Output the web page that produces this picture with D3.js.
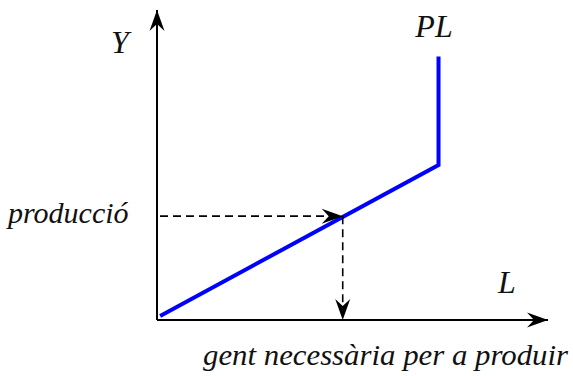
<!DOCTYPE html>
<html>
<head>
<meta charset="utf-8">
<script src="https://cdn.jsdelivr.net/npm/d3@7"></script>
<style>
  body { margin: 0; background: #fff; }
  text { font-family: "Liberation Serif", serif; font-style: italic; fill: #111; }
</style>
</head>
<body>
<svg id="chart"></svg>
<script>
// curve PL (L, Y) in abstract units
var plL = [0.08, 7.2, 7.2];
var plY = [0.13, 5.0, 8.5];
// reading point
var prodL = 4.75, prodY = 3.35;
var labels = { y: "Y", x: "L", curve: "PL", prod: "producció", need: "gent necessària per a produir" };

var width = 573, height = 376;
var svg = d3.select("#chart").attr("width", width).attr("height", height);

var x = d3.scaleLinear().domain([0, 10]).range([157, 548]);
var y = d3.scaleLinear().domain([0, 10]).range([320, 10]);

// stealth-style arrowhead
var defs = svg.append("defs");
defs.append("marker")
  .attr("id", "arrow")
  .attr("markerUnits", "userSpaceOnUse")
  .attr("viewBox", "-22 -8 24 16")
  .attr("refX", 0).attr("refY", 0)
  .attr("markerWidth", 24).attr("markerHeight", 16)
  .attr("orient", "auto")
  .append("path")
  .attr("d", "M0,0 L-21,-7.5 L-14,0 L-21,7.5 Z")
  .attr("fill", "#000");

// axes
svg.append("line")
  .attr("x1", x(0)).attr("y1", y(0)).attr("x2", x(0)).attr("y2", y(10))
  .attr("stroke", "#000").attr("stroke-width", 2).attr("marker-end", "url(#arrow)");
svg.append("line")
  .attr("x1", x(0)).attr("y1", y(0)).attr("x2", x(10)).attr("y2", y(0))
  .attr("stroke", "#000").attr("stroke-width", 2).attr("marker-end", "url(#arrow)");

// PL curve
var line = d3.line().x(function (d, i) { return x(plL[i]); }).y(function (d, i) { return y(plY[i]); });
svg.append("path")
  .attr("d", line(plL))
  .attr("fill", "none")
  .attr("stroke", "#0000ff")
  .attr("stroke-width", 4);

// dashed reading lines
svg.append("line")
  .attr("x1", x(0) + 3).attr("y1", y(prodY)).attr("x2", x(prodL)).attr("y2", y(prodY))
  .attr("stroke", "#000").attr("stroke-width", 1.6).attr("stroke-dasharray", "8,5")
  .attr("marker-end", "url(#arrow)");
svg.append("line")
  .attr("x1", x(prodL)).attr("y1", y(prodY)).attr("x2", x(prodL)).attr("y2", y(0))
  .attr("stroke", "#000").attr("stroke-width", 1.6).attr("stroke-dasharray", "8,5")
  .attr("marker-end", "url(#arrow)");

// labels
svg.append("text").attr("x", 120).attr("y", 53).attr("text-anchor", "middle")
  .style("font-size", "32px").text(labels.y);
svg.append("text").attr("x", 434).attr("y", 37).attr("text-anchor", "middle")
  .style("font-size", "32px").text(labels.curve);
svg.append("text").attr("x", 507).attr("y", 293).attr("text-anchor", "middle")
  .style("font-size", "32px").text(labels.x);
svg.append("text").attr("x", 8).attr("y", 223)
  .style("font-size", "30px").text(labels.prod);
svg.append("text").attr("x", 568).attr("y", 365).attr("text-anchor", "end")
  .attr("textLength", 365).attr("lengthAdjust", "spacingAndGlyphs")
  .style("font-size", "30px").text(labels.need);
</script>
</body>
</html>
